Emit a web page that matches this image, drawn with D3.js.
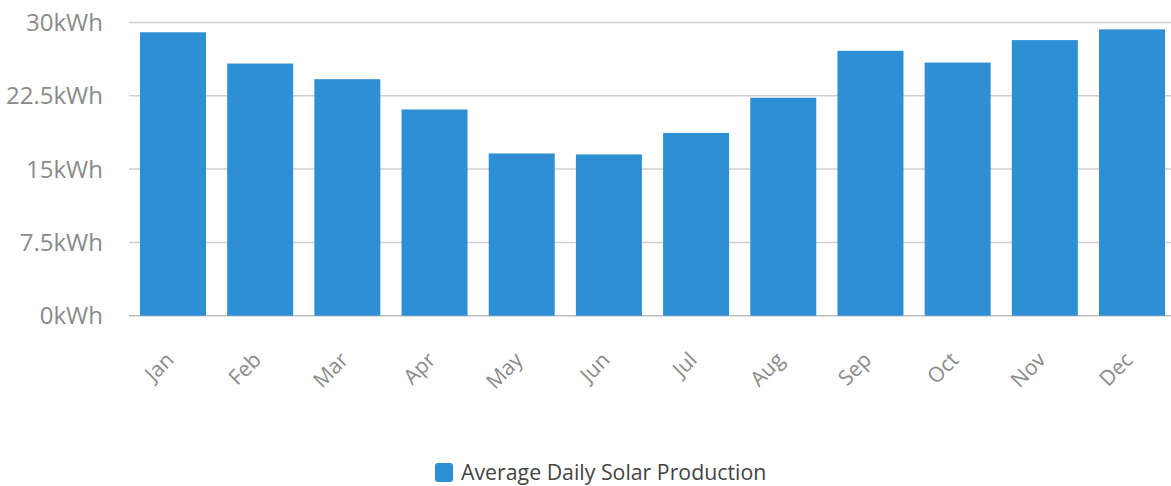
<!DOCTYPE html>
<html>
<head>
<meta charset="utf-8">
<script src="https://cdn.jsdelivr.net/npm/d3@7"></script>
<style>
  body { margin: 0; background: #fff; }
  text { font-family: "Open Sans", Roboto, sans-serif; }
</style>
</head>
<body>
<div id="chart"></div>
<script>
// data
var months = ["Jan", "Feb", "Mar", "Apr", "May", "Jun", "Jul", "Aug", "Sep", "Oct", "Nov", "Dec"];
var production = [29.0, 25.8, 24.2, 21.1, 16.6, 16.5, 18.7, 22.3, 27.1, 25.9, 28.2, 29.3];
var yTicks = [0, 7.5, 15, 22.5, 30];
var seriesName = "Average Daily Solar Production";

var W = 1171, H = 486;
var plotTop = 22.5, plotBottom = 315.7, plotLeft = 129;

var svg = d3.select("#chart")
  .append("svg")
    .attr("width", W)
    .attr("height", H);

var x = d3.scaleBand()
  .domain(months)
  .range([plotLeft, 1176])
  .paddingInner(0.243)
  .paddingOuter(0.126);

var y = d3.scaleLinear()
  .domain([0, 30])
  .range([plotBottom, plotTop]);

// gridlines
svg.selectAll(".grid")
  .data(yTicks)
  .join("line")
  .attr("x1", plotLeft)
  .attr("x2", W)
  .attr("y1", d => y(d))
  .attr("y2", d => y(d))
  .attr("stroke", d => d === 0 ? "#bdbdbd" : "#cfcfcf")
  .attr("stroke-width", 1.5);

// y labels
svg.selectAll(".ylab")
  .data(yTicks)
  .join("text")
  .attr("x", 103)
  .attr("y", d => y(d) + 8.5)
  .attr("text-anchor", "end")
  .attr("fill", "#8a8a8a")
  .style("font-size", "24px")
  .text(d => d + "kWh");

// bars
svg.selectAll(".bar")
  .data(production)
  .join("rect")
  .attr("x", (d, i) => x(months[i]))
  .attr("y", d => y(d))
  .attr("width", x.bandwidth())
  .attr("height", d => y(0) - y(d))
  .attr("fill", "#2e8fd4");

// month labels, rotated
svg.selectAll(".xlab")
  .data(months)
  .join("text")
  .attr("transform", d => "translate(" + (x(d) + x.bandwidth() / 2 - 3) + ",356) rotate(-45)")
  .attr("text-anchor", "end")
  .attr("dy", "0.35em")
  .attr("fill", "#8a8a8a")
  .style("font-size", "21px")
  .text(d => d);

// legend
var legend = svg.append("g");
legend.append("rect")
  .attr("x", 435)
  .attr("y", 463)
  .attr("width", 18)
  .attr("height", 19)
  .attr("rx", 3)
  .attr("fill", "#2e8fd4");
legend.append("text")
  .attr("x", 461)
  .attr("y", 480)
  .attr("fill", "#444")
  .style("font-size", "21.3px")
  .text(seriesName);
</script>
</body>
</html>
